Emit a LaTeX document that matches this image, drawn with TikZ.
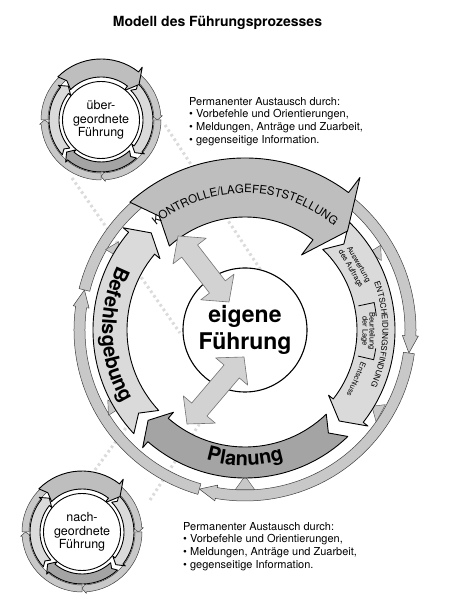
\documentclass[tikz,border=0pt]{standalone}
\usepackage{fontspec}
\setmainfont{TeX Gyre Heros}
\usetikzlibrary{calc,decorations.text}
\definecolor{kgray}{HTML}{BEBEBE}
\definecolor{dgray}{HTML}{A4A4A4}
\definecolor{lgray}{HTML}{DADADA}
\definecolor{rgray}{HTML}{C8C8C8}
\definecolor{agray}{HTML}{D2D2D2}
\tikzset{
  kband/.style={fill=kgray,draw=black,line width=0.9pt},
  dband/.style={fill=dgray,draw=black,line width=0.9pt},
  lband/.style={fill=lgray,draw=black,line width=0.9pt},
  tring/.style={fill=rgray,draw=black!75,line width=0.5pt},
  tri/.style={fill=rgray,draw=black!70,line width=0.4pt},
  dbl/.style={fill=agray,draw=black!55,line width=0.6pt},
  faint/.style={draw=black!14,line width=3pt,dash pattern=on 2.5pt off 3pt},
  txt/.style={inner sep=0pt,align=left,font=\fontsize{11}{12.7}\selectfont},
  ctext/.style={inner sep=0pt,font=\fontsize{12.5}{14}\selectfont},
  subtext/.style={inner sep=0pt,font=\fontsize{7.5}{8}\selectfont}
}
% curved clockwise arrow: r1 r2 tail notch headbase tip barb style
\newcommand\carrow[8]{%
  \filldraw[#8] (#3:#2) arc[start angle=#3, end angle=#5, radius=#2]
    -- (#5:{#2+#7}) -- (#6:{(#1+#2)/2}) -- (#5:{#1-#7}) -- (#5:#1)
    arc[start angle=#5, end angle=#3, radius=#1]
    -- ({#3-#4}:{(#1+#2)/2}) -- cycle;}
% double headed straight arrow between two named coordinates
\newcommand\dblarrow[2]{%
  \filldraw[dbl] (#1) -- ($($(#1)!19pt!(#2)$)!21pt!90:(#2)$)
    -- ($($(#1)!19pt!(#2)$)!10pt!90:(#2)$)
    -- ($($(#2)!19pt!(#1)$)!10pt!-90:(#1)$)
    -- ($($(#2)!19pt!(#1)$)!21pt!-90:(#1)$)
    -- (#2)
    -- ($($(#2)!19pt!(#1)$)!21pt!90:(#1)$)
    -- ($($(#2)!19pt!(#1)$)!10pt!90:(#1)$)
    -- ($($(#1)!19pt!(#2)$)!10pt!-90:(#2)$)
    -- ($($(#1)!19pt!(#2)$)!21pt!-90:(#2)$) -- cycle;}
% small ring
\newcommand\smallring[4]{%
  \begin{scope}[shift={(#1,#2)}]
    \carrow{53}{60}{62}{0}{4}{0}{1.5}{tring}
    \carrow{53}{60}{0}{0}{-86}{-90}{1.5}{tring}
    \carrow{53}{60}{-90}{0}{-176}{-180}{1.5}{tring}
    \carrow{53}{60}{-180}{0}{-232}{-232}{0}{tring}
    \carrow{42}{52}{45}{4}{-38}{-44}{3}{lband}
    \carrow{42}{52}{-47}{4}{-130}{-137}{3}{dband}
    \carrow{42}{52}{222}{4}{141}{134}{3}{lband}
    \carrow{43}{61}{135}{4}{52}{43}{6}{kband}
  \end{scope}
  \node[circle,draw=black,line width=0.9pt,fill=white,minimum size=77pt,inner sep=0pt] (#3) at (#1,#2) {};
  \node[ctext,anchor=base] (#3a) at (#1,{#2+10}) {#4};
}
\begin{document}
\begin{tikzpicture}[x=1pt,y=1pt,line join=round]
\useasboundingbox (0,0) rectangle (449,609);
\fill[white] (0,0) rectangle (449,609);

% faint dotted connections
\coordinate (fa1) at (72,431); \coordinate (fa2) at (180,276);
\coordinate (fb1) at (165,484); \coordinate (fb2) at (262,337);
\coordinate (fc1) at (95,139); \coordinate (fc2) at (150,214);
\coordinate (fd1) at (150,109); \coordinate (fd2) at (215,209);
\draw[faint] (fa1) -- (fa2);
\draw[faint] (fb1) -- (fb2);
\draw[faint] (fc1) -- (fc2);
\draw[faint] (fd1) -- (fd2);

% title
\node[anchor=base,inner sep=0pt,font=\fontsize{14}{16}\selectfont\bfseries] (ttl) at (217.5,582) {Modell des Führungsprozesses};

% text blocks
\node[txt,anchor=north west] (ta) at (189,512) {Permanenter Austausch durch:\\• Vorbefehle und Orientierungen,\\• Meldungen, Anträge und Zuarbeit,\\• gegenseitige Information.};
\node[txt,anchor=north west] (tb) at (183,87) {Permanenter Austausch durch:\\• Vorbefehle und Orientierungen,\\• Meldungen, Anträge und Zuarbeit,\\• gegenseitige Information.};

% big diagram
\begin{scope}[shift={(245,279)}]
  % thin outer ring
  \carrow{160}{171}{62}{0}{-2}{-8}{2.5}{tring}
  \carrow{160}{171}{-8}{0}{-100}{-106}{2.5}{tring}
  \carrow{160}{171}{-106}{0}{-188}{-194}{2.5}{tring}
  \carrow{160}{171}{-194}{0}{-236}{-236}{0}{tring}
  % small triangles
  \filldraw[tri] (-93.5:160) -- (-90:146) -- (-86.5:160) -- cycle;
  \filldraw[tri] (-35:160) -- (-31:148) -- (-28:159) -- cycle;
  \filldraw[tri] (32:160) -- (27:153) -- (32:147) -- cycle;
  \filldraw[tri] (212:161) -- (207:154) -- (212:147) -- cycle;
  \filldraw[tri] (150:161) -- (145:154) -- (150:147) -- cycle;
  % process bands
  \carrow{112}{150}{46}{5}{-38}{-44}{6}{lband}
  \carrow{117}{148}{-46}{5}{-131}{-137}{8}{dband}
  \carrow{118}{152}{223}{5}{140}{134}{7}{lband}
  \carrow{113}{172}{132}{5}{53}{44}{19}{kband}
  % separators in Entscheidung band
  \draw[line width=0.8pt] (12:116) -- (12:132) arc[start angle=12, end angle=6, radius=132];
  \draw[line width=0.8pt] (-13:116) -- (-13:132) arc[start angle=-13, end angle=-8, radius=132];
  % band labels
  \path[decorate,decoration={text along path,text align=center,
    text={|\fontsize{11.5}{13}\selectfont|KONTROLLE/LAGEFESTSTELLUNG}}]
    (140:137) arc[start angle=140, end angle=40, radius=137];
  \path[decorate,decoration={text along path,text align=center,
    text={|\fontsize{20}{24}\selectfont\bfseries|Befehlsgebung}}]
    (140:143) arc[start angle=140, end angle=224, radius=143];
  \path[decorate,decoration={text along path,text align=center,
    text={|\fontsize{20}{24}\selectfont\bfseries|Planung}}]
    (235:135.5) arc[start angle=235, end angle=305, radius=135.5];
  \path[decorate,decoration={text along path,text align=center,
    text={|\fontsize{8}{10}\selectfont|ENTSCHEIDUNGSFINDUNG}}]
    (27:137.5) arc[start angle=27, end angle=-31, radius=137.5];
  \node[subtext,rotate=-60] (s1) at (30:131) {Auswertung};
  \node[subtext,rotate=-60] (s2) at (30:122) {des Auftrags};
  \node[subtext,rotate=-90] (s3) at (-0.5:126.5) {Beurteilung};
  \node[subtext,rotate=-90] (s4) at (-0.5:119.5) {der Lage};
  \node[subtext,rotate=-114] (s5) at (-24:122) {Entschluss};
\end{scope}

% inner circle
\node[circle,draw=black,line width=1.1pt,fill=white,minimum size=124pt,inner sep=0pt] (eig) at (245,279) {};
\node[anchor=base,inner sep=0pt,font=\fontsize{23}{27}\selectfont\bfseries] (eig1) at (245,286) {eigene};
\node[anchor=base,inner sep=0pt,font=\fontsize{23}{27}\selectfont\bfseries] (eig2) at (245,259) {Führung};

% double arrows
\coordinate (ua1) at (178,373); \coordinate (ua2) at (229,307);
\coordinate (la1) at (187,185); \coordinate (la2) at (244,252);
\dblarrow{ua1}{ua2}
\dblarrow{la1}{la2}

% small circles
\smallring{101}{489}{uf}{über-}
\node[ctext,anchor=base] (uf2) at (101,485) {geordnete};
\node[ctext,anchor=base] (uf3) at (101,472) {Führung};
\smallring{82}{77}{nf}{nach-}
\node[ctext,anchor=base] (nf2) at (82,73) {geordnete};
\node[ctext,anchor=base] (nf3) at (82,60) {Führung};
\end{tikzpicture}
\end{document}
